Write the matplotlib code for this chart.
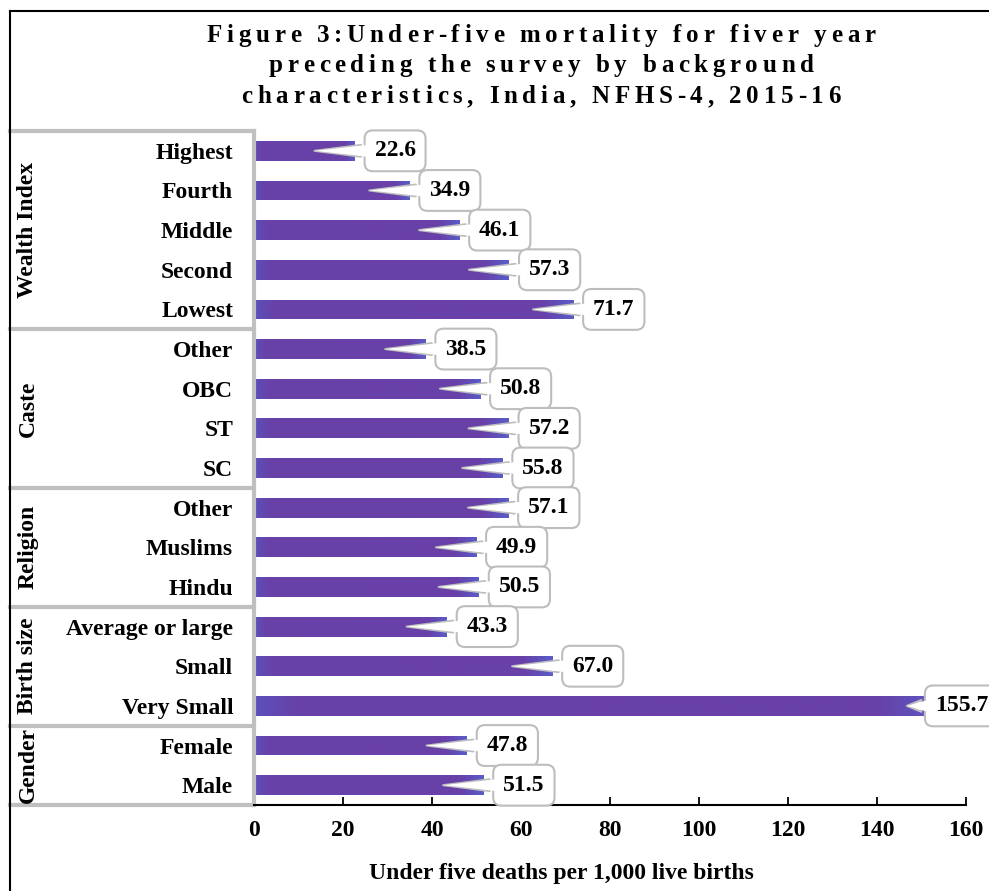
import matplotlib
matplotlib.use("Agg")
import matplotlib.pyplot as plt
import numpy as np
from matplotlib.font_manager import FontProperties
from matplotlib.lines import Line2D
from matplotlib.colors import LinearSegmentedColormap
import matplotlib.transforms as mtransforms

plt.rcParams['font.family'] = ['Liberation Serif', 'DejaVu Serif']
plt.rcParams['font.weight'] = 'bold'

# data, top to bottom
categories = ["Highest", "Fourth", "Middle", "Second", "Lowest",
              "Other", "OBC", "ST", "SC",
              "Other", "Muslims", "Hindu",
              "Average or large", "Small", "Very Small",
              "Female", "Male"]
values = [22.6, 34.9, 46.1, 57.3, 71.7,
          38.5, 50.8, 57.2, 55.8,
          57.1, 49.9, 50.5,
          43.3, 67.0, 155.7,
          47.8, 51.5]
groups = ["Wealth Index", "Caste", "Religion", "Birth size", "Gender"]
group_sizes = [5, 4, 3, 3, 2]
xticks = [0, 20, 40, 60, 80, 100, 120, 140, 160]

title_lines = ["Figure 3:Under-five mortality for fiver year",
               "preceding the survey by background",
               "characteristics, India, NFHS-4, 2015-16"]
xlabel = "Under five deaths per 1,000 live births"

W, H = 989, 891
fs = 17
fig = plt.figure(figsize=(W / 100, H / 100), dpi=100)
ax = fig.add_axes([254 / W, 1 - 805 / H, (966 - 254) / W, (805 - 131) / H])

pos = list(range(len(categories)))
bars = ax.barh(pos, values, height=0.5, color="#6840A8", linewidth=0, zorder=2)

# horizontal gradient inside each bar (bluish ends, purple body)
cmap = LinearSegmentedColormap.from_list(
    "bar", [(0, "#5a50bc"), (0.06, "#6842a8"), (0.9, "#6840a8"), (1, "#5a5cc8")])
grad = np.linspace(0, 1, 256).reshape(1, -1)
for b in bars:
    x0, y0 = b.get_x(), b.get_y()
    im = ax.imshow(grad, cmap=cmap, aspect='auto', interpolation='bilinear',
                   extent=(x0, x0 + b.get_width(), y0 + b.get_height(), y0), zorder=2.5)
    im.set_clip_path(b)

ax.set_xlim(0, 160)
ax.set_ylim(len(categories) - 0.5, -0.5)
ax.set_xticks(xticks)
ax.set_xticklabels([str(t) for t in xticks], fontsize=fs, fontweight='bold')
ax.tick_params(axis='x', direction='in', length=6, width=1.3, pad=11)
ax.set_yticks(pos)
ax.set_yticklabels(categories, fontsize=fs, fontweight='bold')
ax.tick_params(axis='y', length=0, pad=15)

for s in ['top', 'right']:
    ax.spines[s].set_visible(False)
ax.spines['bottom'].set_linewidth(1.5)
ax.spines['left'].set_color('#c0c0c0')
ax.spines['left'].set_linewidth(3)

# callout labels
pad = 0.42
pad_px = pad * fs * 100 / 72
wedge = "wedge,tail_width=0.5,shrink_factor=0.5"
for i, v in enumerate(values):
    off = 60
    if v > 150:  # keep the last box inside the plot
        off = 28
    ax.annotate(f"{v:.1f}", xy=(v - 9, i), xytext=(off, 0), textcoords='offset pixels',
                ha='left', va='center', fontsize=fs, fontweight='bold',
                bbox=dict(boxstyle=f"round,pad={pad},rounding_size=0.35", fc='white', ec='#bdbdbd', lw=1.5),
                arrowprops=dict(arrowstyle=wedge, fc='white', ec='#bdbdbd', lw=1.5,
                                shrinkB=0, mutation_scale=fs),
                annotation_clip=False, zorder=5)
    # white fill over the box border where the pointer joins it
    ax.annotate("", xy=(v - 9, i), xytext=(off - pad_px + 3, 0), textcoords='offset pixels',
                arrowprops=dict(arrowstyle=wedge, fc='white', ec='none',
                                shrinkA=0, shrinkB=0, mutation_scale=fs),
                annotation_clip=False, zorder=6)

# group table on the left
trans = mtransforms.blended_transform_factory(ax.transAxes, ax.transData)
x_left = (10 - 254) / (966 - 254)
bounds = [-0.5]
for n in group_sizes:
    bounds.append(bounds[-1] + n)
for b in bounds:
    ax.add_line(Line2D([x_left, 0], [b, b], transform=trans, color='#c0c0c0', lw=3, clip_on=False))
x_grp = (28 - 254) / (966 - 254)
for g, a, b in zip(groups, bounds[:-1], bounds[1:]):
    ax.text(x_grp, (a + b) / 2, g, transform=trans, rotation=90, ha='center', va='center',
            fontsize=fs, fontweight='bold')

fig.text(561 / W, 1 - 873 / H, xlabel, ha='center', va='center', fontsize=fs, fontweight='bold')

# outer frame (left and top edges)
fig.add_artist(Line2D([10 / W, 10 / W], [0, 1 - 11 / H], transform=fig.transFigure, color='black', lw=1.5))
fig.add_artist(Line2D([10 / W, 1], [1 - 11 / H, 1 - 11 / H], transform=fig.transFigure, color='black', lw=1.5))

# letter-spaced title
renderer = fig.canvas.get_renderer()
prop = FontProperties(family='Liberation Serif', weight='bold', size=18)
space_w = (renderer.get_text_width_height_descent("a a", prop, ismath=False)[0]
           - renderer.get_text_width_height_descent("aa", prop, ismath=False)[0])
track = 4.7
for line, base in zip(title_lines, [42, 72, 103]):
    widths = [space_w if c == " " else renderer.get_text_width_height_descent(c, prop, ismath=False)[0]
              for c in line]
    total = sum(widths) + track * (len(line) - 1)
    x = 541 - total / 2
    for c, w in zip(line, widths):
        if c != " ":
            fig.text(x / W, 1 - base / H, c, fontproperties=prop, ha='left', va='baseline')
        x += w + track

fig.savefig("out.png", dpi=100)
